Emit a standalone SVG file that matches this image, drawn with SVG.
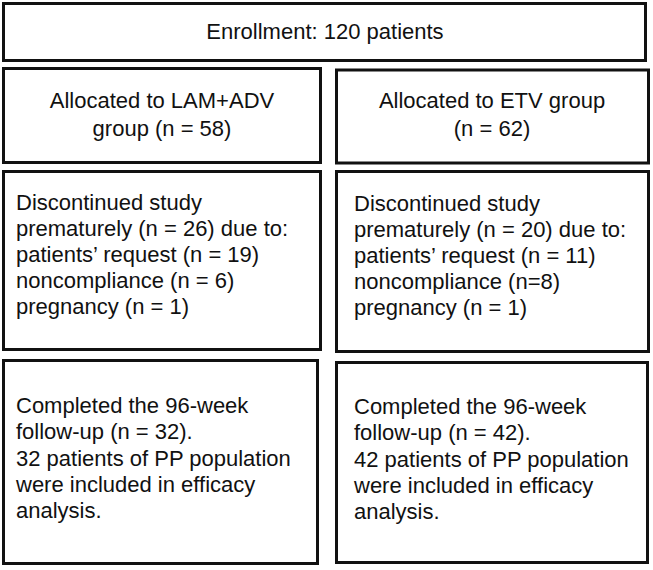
<svg xmlns="http://www.w3.org/2000/svg" width="653" height="570" viewBox="0 0 653 570">
<style>
.box{fill:#fff;stroke:#111;stroke-width:3}
text{font-family:"Liberation Sans",Arial,sans-serif;font-size:22px;fill:#111}
.c{text-anchor:middle}
</style>
<rect x="0" y="0" width="653" height="570" fill="#fff"/>
<g id="enrollment">
<rect class="box" x="3.5" y="3.5" width="642" height="57"/>
<text class="c" x="325" y="39">Enrollment: 120 patients</text>
</g>
<g id="alloc-lam">
<rect class="box" x="3.5" y="68.5" width="317" height="94"/>
<text class="c" x="162" y="108">Allocated to LAM+ADV</text>
<text class="c" x="162" y="136">group (n = 58)</text>
</g>
<g id="alloc-etv">
<rect class="box" x="336.5" y="70" width="312" height="93"/>
<text class="c" x="492" y="108">Allocated to ETV group</text>
<text class="c" x="492" y="136">(n = 62)</text>
</g>
<g id="disc-lam">
<rect class="box" x="3.5" y="171.5" width="317" height="178"/>
<text x="16" y="210">Discontinued study</text>
<text x="16" y="236">prematurely (n = 26) due to:</text>
<text x="16" y="262">patients’ request (n = 19)</text>
<text x="16" y="288">noncompliance (n = 6)</text>
<text x="16" y="314">pregnancy (n = 1)</text>
</g>
<g id="disc-etv">
<rect class="box" x="336.5" y="171.5" width="312" height="180"/>
<text x="354" y="211">Discontinued study</text>
<text x="354" y="237">prematurely (n = 20) due to:</text>
<text x="354" y="263">patients’ request (n = 11)</text>
<text x="354" y="289">noncompliance (n=8)</text>
<text x="354" y="315">pregnancy (n = 1)</text>
</g>
<g id="comp-lam">
<rect class="box" x="3.5" y="360.5" width="314" height="203"/>
<text x="16" y="413">Completed the 96-week</text>
<text x="16" y="439">follow-up (n = 32).</text>
<text x="16" y="466">32 patients of PP population</text>
<text x="16" y="492">were included in efficacy</text>
<text x="16" y="518">analysis.</text>
</g>
<g id="comp-etv">
<rect class="box" x="336.5" y="362.5" width="311" height="200"/>
<text x="354" y="414">Completed the 96-week</text>
<text x="354" y="440">follow-up (n = 42).</text>
<text x="354" y="467">42 patients of PP population</text>
<text x="354" y="493">were included in efficacy</text>
<text x="354" y="519">analysis.</text>
</g>
<g id="connectors"></g>
</svg>
